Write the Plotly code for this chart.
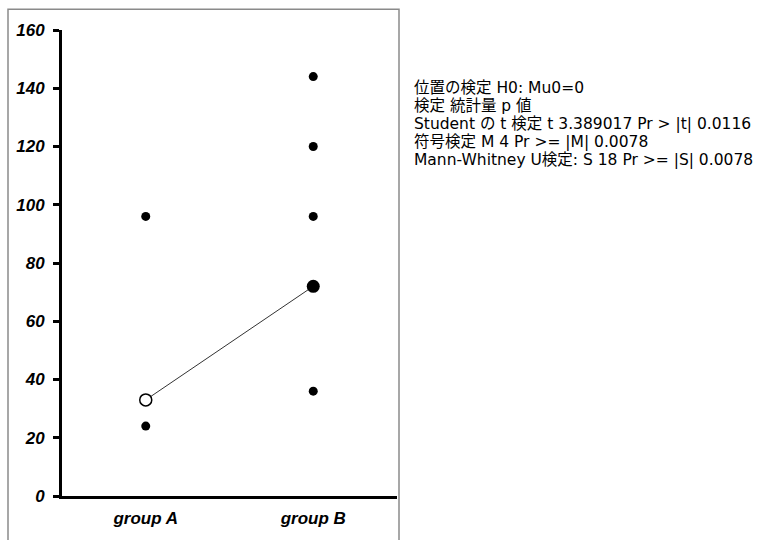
import plotly.graph_objects as go

categories = ["group A", "group B"]
group_a_values = [96, 24]
group_b_values = [144, 120, 96, 36]
summary_values = [33, 72]          # open circle (A) and large dot (B), joined by a line
y_ticks = [0, 20, 40, 60, 80, 100, 120, 140, 160]
stats_lines = [
    "位置の検定 H0: Mu0=0",
    "検定 統計量 p 値",
    "Student の t 検定 t 3.389017 Pr > |t| 0.0116",
    "符号検定 M 4 Pr >= |M| 0.0078",
    "Mann-Whitney U検定: S 18 Pr >= |S| 0.0078",
]

W, H = 764, 540
L, R, T, B = 62, 397, 30, 503  # plot-area pixel edges
pw, ph = R - L, B - T

fig = go.Figure()

# connecting line between summary points
fig.add_trace(go.Scatter(
    x=categories, y=summary_values, mode="lines",
    line=dict(color="#333333", width=1), hoverinfo="skip", showlegend=False))

# raw points
fig.add_trace(go.Scatter(
    x=[categories[0]] * len(group_a_values), y=group_a_values, mode="markers",
    marker=dict(color="black", size=9), showlegend=False))
fig.add_trace(go.Scatter(
    x=[categories[1]] * len(group_b_values), y=group_b_values, mode="markers",
    marker=dict(color="black", size=9), showlegend=False))

# summary markers
fig.add_trace(go.Scatter(
    x=[categories[0]], y=[summary_values[0]], mode="markers",
    marker=dict(color="white", size=12, line=dict(color="black", width=1.5)),
    showlegend=False))
fig.add_trace(go.Scatter(
    x=[categories[1]], y=[summary_values[1]], mode="markers",
    marker=dict(color="black", size=13), showlegend=False))

def px_x(x):
    return (x - L) / pw

def px_y(y):
    return (B - y) / ph

# outer frame
fig.add_shape(type="rect", xref="paper", yref="paper",
              x0=px_x(8), x1=px_x(399), y0=px_y(560), y1=px_y(9),
              line=dict(color="#8a8a8a", width=1.5), fillcolor="rgba(0,0,0,0)")

# stats text
line_y = [89, 107, 125, 144, 162]
for txt, yy in zip(stats_lines, line_y):
    fig.add_annotation(text=txt, xref="paper", yref="paper",
                       x=px_x(412), y=px_y(yy), xanchor="left", yanchor="middle",
                       showarrow=False,
                       font=dict(family="DejaVu Sans, Noto Sans CJK JP", size=15.5,
                                 color="black"))

fig.update_layout(
    width=W, height=H,
    margin=dict(l=L, r=W - R, t=T, b=H - B, pad=0),
    paper_bgcolor="white", plot_bgcolor="white",
    showlegend=False,
)
fig.update_xaxes(
    type="category", range=[-0.5, 1.5],
    showline=True, linecolor="black", linewidth=3,
    showgrid=False, zeroline=False, ticks="",
    tickfont=dict(family="Liberation Sans", size=17, color="black",
                  weight="bold", style="italic"),
    ticklabelstandoff=5,
)
fig.update_yaxes(
    range=[0, 160], tickvals=y_ticks,
    showline=True, linecolor="black", linewidth=3,
    showgrid=False, zeroline=False,
    ticks="outside", ticklen=6, tickwidth=3, tickcolor="black",
    tickfont=dict(family="Liberation Sans", size=17, color="black",
                  weight="bold", style="italic"),
    ticklabelstandoff=5,
)

fig.write_html(
    "out.html",
    config={"displayModeBar": False},
    post_script="document.body.style.margin='0px';document.body.style.overflow='hidden';",
)
